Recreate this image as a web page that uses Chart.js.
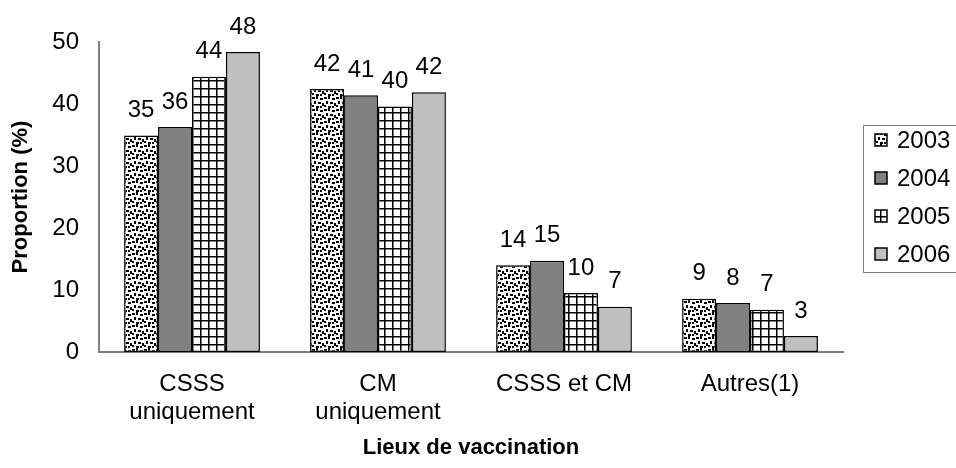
<!DOCTYPE html>
<html>
<head>
<meta charset="utf-8">
<script src="https://cdn.jsdelivr.net/npm/chart.js@4"></script>
<style>
body { margin: 0; background: #fff; }
</style>
</head>
<body>
<canvas id="chart" width="956" height="468"></canvas>
<script>
var years = ['2003', '2004', '2005', '2006'];
var categories = [['CSSS', 'uniquement'], ['CM', 'uniquement'], 'CSSS et CM', 'Autres(1)'];
var v2003 = [34.9, 42.4, 14.0, 8.6];
var v2004 = [36.3, 41.4, 14.7, 7.9];
var v2005 = [44.4, 39.6, 9.5, 6.8];
var v2006 = [48.4, 41.9, 7.3, 2.6];
var yMax = 50;
var yStep = 10;

var FONT = "'Liberation Sans', Arial, sans-serif";

var canvas = document.getElementById('chart');
var ctx = canvas.getContext('2d');

function tile(w, h, draw) {
	var c = document.createElement('canvas');
	c.width = w;
	c.height = h;
	var g = c.getContext('2d');
	g.fillStyle = '#fff';
	g.fillRect(0, 0, w, h);
	g.fillStyle = '#000';
	draw(g);
	return ctx.createPattern(c, 'repeat');
}

// confetti dots for 2003
var dots = tile(12, 12, function(g) {
	g.fillRect(0, 1, 3, 2);
	g.fillRect(4, 0, 2, 3);
	g.fillRect(8, 2, 3, 2);
	g.fillRect(2, 5, 2, 3);
	g.fillRect(6, 6, 3, 2);
	g.fillRect(10, 7, 2, 3);
	g.fillRect(0, 9, 2, 2);
	g.fillRect(4, 10, 3, 2);
	g.fillRect(8, 10, 2, 2);
});

// grid for 2005
var grid = tile(8, 8, function(g) {
	g.fillRect(0, 0, 8, 1.5);
	g.fillRect(0, 0, 1.5, 8);
});

var fills = [dots, '#808080', grid, '#c0c0c0'];
var series = [v2003, v2004, v2005, v2006];

var datasets = [];
years.forEach(function(y, i) {
	datasets.push({
		label: y,
		data: series[i],
		backgroundColor: fills[i],
		borderColor: '#000',
		borderWidth: 1.5,
		borderSkipped: false
	});
});

// value labels above bars
var valueLabels = {
	id: 'valueLabels',
	afterDatasetsDraw: function(chart) {
		var c = chart.ctx;
		c.save();
		c.font = '24px ' + FONT;
		c.fillStyle = '#000';
		c.textAlign = 'center';
		c.textBaseline = 'middle';
		chart.data.datasets.forEach(function(ds, di) {
			var meta = chart.getDatasetMeta(di);
			meta.data.forEach(function(bar, i) {
				c.fillText(Math.round(ds.data[i]), bar.x, bar.y - 25);
			});
		});
		c.restore();
	}
};

// legend box on the right
var boxLegend = {
	id: 'boxLegend',
	afterDraw: function(chart) {
		var c = chart.ctx;
		c.save();
		c.strokeStyle = '#808080';
		c.lineWidth = 1;
		c.strokeRect(863.5, 125.5, 120, 147);
		c.font = '24px ' + FONT;
		c.textBaseline = 'middle';
		c.textAlign = 'left';
		years.forEach(function(y, i) {
			var cy = 140 + i * 38;
			c.fillStyle = fills[i];
			c.fillRect(875, cy - 6, 12, 12);
			c.strokeStyle = '#000';
			c.lineWidth = 1.5;
			c.strokeRect(875, cy - 6, 12, 12);
			c.fillStyle = '#000';
			c.fillText(y, 897, cy + 1);
		});
		c.restore();
	}
};

var chart = new Chart(ctx, {
	type: 'bar',
	data: {
		labels: categories,
		datasets: datasets
	},
	options: {
		responsive: false,
		animation: false,
		layout: {
			padding: { top: 42, right: 113, bottom: 0, left: 0 }
		},
		datasets: {
			bar: { categoryPercentage: 0.73, barPercentage: 1.0 }
		},
		plugins: {
			legend: { display: false },
			tooltip: { enabled: false }
		},
		scales: {
			x: {
				grid: { display: false, drawTicks: false },
				border: { color: '#808080', width: 2 },
				ticks: {
					color: '#000',
					font: { family: FONT, size: 24, lineHeight: 1.15 },
					padding: 19,
					maxRotation: 0,
					autoSkip: false
				},
				title: {
					display: true,
					text: 'Lieux de vaccination',
					color: '#000',
					font: { family: FONT, size: 22, weight: 'bold' },
					padding: { top: 0, bottom: 7 }
				},
				afterFit: function(scale) { scale.height = 116; }
			},
			y: {
				min: 0,
				max: yMax,
				grid: { display: false, drawTicks: false },
				border: { color: '#808080', width: 2 },
				ticks: {
					stepSize: yStep,
					color: '#000',
					font: { family: FONT, size: 24 },
					padding: 20
				},
				title: {
					display: true,
					text: 'Proportion (%)',
					color: '#000',
					font: { family: FONT, size: 22, weight: 'bold' },
					padding: { top: 8, bottom: 0 }
				},
				afterFit: function(scale) { scale.width = 99; }
			}
		}
	},
	plugins: [valueLabels, boxLegend]
});
</script>
</body>
</html>
